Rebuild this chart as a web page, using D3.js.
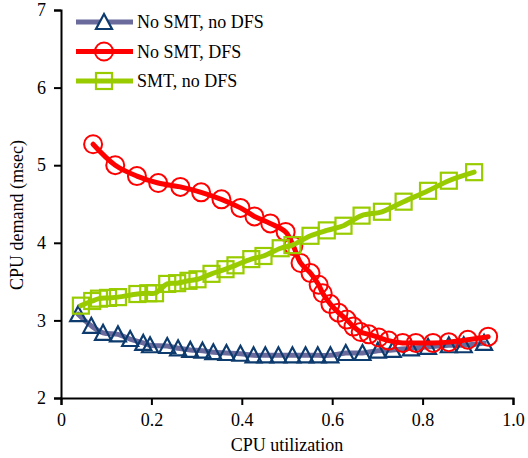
<!DOCTYPE html>
<html lang="en">
<head>
<meta charset="utf-8">
<title>CPU demand vs utilization</title>
<script src="https://d3js.org/d3.v7.min.js"></script>
<style>
  body { margin: 0; background: #fff; }
</style>
</head>
<body>
<svg width="528" height="458" id="svg"></svg>
<script>
// series: CPU utilization (x) and CPU demand in msec (y)
var noSmtNoDfsX = [0.038, 0.067, 0.093, 0.126, 0.153, 0.182, 0.197, 0.235, 0.259, 0.286,
                   0.313, 0.337, 0.366, 0.397, 0.426, 0.452, 0.481, 0.512, 0.541, 0.568,
                   0.596, 0.630, 0.667, 0.701, 0.734, 0.774, 0.812, 0.858, 0.891, 0.936];
var noSmtNoDfsY = [3.08, 2.93, 2.84, 2.82, 2.76, 2.71, 2.68, 2.67, 2.64, 2.62,
                   2.61, 2.59, 2.58, 2.57, 2.55, 2.55, 2.55, 2.55, 2.55, 2.55,
                   2.55, 2.58, 2.58, 2.61, 2.62, 2.64, 2.66, 2.68, 2.68, 2.71];

var noSmtDfsX = [0.071, 0.120, 0.168, 0.215, 0.264, 0.310, 0.355, 0.397, 0.428, 0.463,
                 0.497, 0.514, 0.530, 0.552, 0.570, 0.579, 0.596, 0.614, 0.632, 0.647,
                 0.663, 0.681, 0.703, 0.725, 0.756, 0.785, 0.823, 0.858, 0.900, 0.945];
var noSmtDfsY = [5.27, 5.00, 4.86, 4.77, 4.72, 4.65, 4.56, 4.45, 4.34, 4.25,
                 4.14, 3.96, 3.74, 3.61, 3.46, 3.35, 3.21, 3.10, 3.01, 2.92,
                 2.85, 2.82, 2.78, 2.74, 2.71, 2.71, 2.71, 2.72, 2.75, 2.79];

var smtNoDfsX = [0.044, 0.069, 0.084, 0.104, 0.126, 0.169, 0.193, 0.208, 0.235, 0.257,
                 0.282, 0.302, 0.333, 0.364, 0.386, 0.421, 0.448, 0.486, 0.512, 0.552,
                 0.588, 0.625, 0.665, 0.710, 0.758, 0.812, 0.858, 0.914];
var smtNoDfsY = [3.19, 3.25, 3.28, 3.29, 3.30, 3.34, 3.35, 3.35, 3.47, 3.48,
                 3.51, 3.53, 3.60, 3.66, 3.71, 3.79, 3.83, 3.93, 3.97, 4.09,
                 4.16, 4.22, 4.35, 4.40, 4.53, 4.67, 4.80, 4.91];

var xTicks = [0, 0.2, 0.4, 0.6, 0.8, 1.0];
var xTickLabels = ["0", "0.2", "0.4", "0.6", "0.8", "1.0"];
var yTicks = [2, 3, 4, 5, 6, 7];
var seriesNames = ["No SMT, no DFS", "No SMT, DFS", "SMT, no DFS"];

var serif = "'Liberation Serif', 'DejaVu Serif', serif";

var svg = d3.select("#svg");
var x = d3.scaleLinear().domain([0, 1]).range([61, 513]);
var y = d3.scaleLinear().domain([2, 7]).range([398, 10]);

// axes
var xAxis = svg.append("g").attr("transform", "translate(0,398)")
    .call(d3.axisBottom(x).tickValues(xTicks).tickSize(7).tickPadding(8)
        .tickFormat(function(d, i) { return xTickLabels[i]; }));
var yAxis = svg.append("g").attr("transform", "translate(61,0)")
    .call(d3.axisLeft(y).tickValues(yTicks).tickSize(7).tickPadding(8).tickFormat(d3.format("d")));
[xAxis, yAxis].forEach(function(a) {
    a.attr("font-family", serif).attr("font-size", 18);
    a.select(".domain").attr("stroke", "#000").attr("stroke-width", 2);
    a.selectAll(".tick line").attr("stroke", "#000").attr("stroke-width", 2);
    a.selectAll(".tick text").attr("fill", "#000");
});

svg.append("text").attr("x", 287).attr("y", 451).attr("text-anchor", "middle")
    .attr("font-family", serif).attr("font-size", 18).text("CPU utilization");
svg.append("text").attr("transform", "translate(23,215) rotate(-90)").attr("text-anchor", "middle")
    .attr("font-family", serif).attr("font-size", 18).text("CPU demand (msec)");

// marker shapes
var tri = "M0,-8L8,7L-8,7Z";
function drawMarker(g, type, color) {
    if (type == "tri") {
        g.append("path").attr("d", tri).attr("fill", "none").attr("stroke", color).attr("stroke-width", 2.2);
    } else if (type == "circ") {
        g.append("circle").attr("r", 9).attr("fill", "none").attr("stroke", color).attr("stroke-width", 2);
    } else {
        g.append("rect").attr("x", -8).attr("y", -8).attr("width", 16).attr("height", 16)
            .attr("fill", "none").attr("stroke", color).attr("stroke-width", 2.2);
    }
}

var series = [
    {name: seriesNames[0], xs: noSmtNoDfsX, ys: noSmtNoDfsY, line: "#6a6a9c", mark: "#0d3b6e", type: "tri"},
    {name: seriesNames[1], xs: noSmtDfsX, ys: noSmtDfsY, line: "#ff0000", mark: "#ff0000", type: "circ"},
    {name: seriesNames[2], xs: smtNoDfsX, ys: smtNoDfsY, line: "#99cc00", mark: "#99cc00", type: "sq"}
];

var line = d3.line()
    .x(function(d) { return x(d[0]); })
    .y(function(d) { return y(d[1]); })
    .curve(d3.curveCatmullRom.alpha(0.5));

series.forEach(function(s) {
    var pts = s.xs.map(function(v, i) { return [v, s.ys[i]]; });
    svg.append("path").datum(pts).attr("d", line)
        .attr("fill", "none").attr("stroke", s.line).attr("stroke-width", 5)
        .attr("stroke-linecap", "round");
    svg.append("g").selectAll("g").data(pts).enter().append("g")
        .attr("transform", function(d) { return "translate(" + x(d[0]) + "," + y(d[1]) + ")"; })
        .each(function() { drawMarker(d3.select(this), s.type, s.mark); });
});

// legend
var legend = svg.append("g");
series.forEach(function(s, i) {
    var ly = 22 + i * 29.5;
    legend.append("line").attr("x1", 76).attr("x2", 133).attr("y1", ly).attr("y2", ly)
        .attr("stroke", s.line).attr("stroke-width", 5);
    var m = legend.append("g").attr("transform", "translate(104," + ly + ")");
    drawMarker(m, s.type, s.mark);
    if (s.type == "tri") m.select("path").attr("fill", "#fff");
    legend.append("text").attr("x", 137).attr("y", ly + 6)
        .attr("font-family", serif).attr("font-size", 18).text(s.name);
});
</script>
</body>
</html>
